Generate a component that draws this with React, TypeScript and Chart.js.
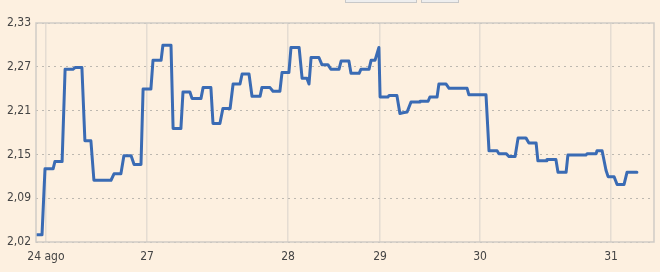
import React, { useEffect, useRef } from "react";
import { Chart, registerables } from "chart.js";

Chart.register(...registerables);

// Sample index (trading-time position) of each breakpoint and the price there
const sampleIndex = [
  0.3, 2, 3, 5.7, 6.3, 8.7, 9.7, 12.3, 13, 15.3, 16.3, 18.3, 19.3, 25, 26, 28.3,
  29.3, 31.7, 32.7, 35, 35.7, 38.3, 39, 41.7, 42.3, 45, 45.7, 48.3, 49, 51.3, 52,
  55, 55.7, 58.3, 59, 61.3, 62.3, 64.7, 65.7, 68, 68.7, 71, 72, 74.7, 75.3, 78,
  79, 81.3, 82, 84.3, 85, 87.7, 88.7, 90.3, 91, 91.7, 94.3, 95.3, 97.3, 98.3,
  101, 101.7, 104.3, 105, 107.7, 108.3, 111, 111.7, 113, 114.3, 114.7, 117.3,
  117.7, 120.3, 121.3, 122.3, 123.7, 125, 127.7, 128, 130.7, 131.3, 133.7,
  134.3, 136.7, 137.7, 143.7, 144.3, 150, 151, 153.7, 154.3, 156.7, 157.7,
  159.7, 160.7, 163.3, 164.3, 166.7, 167.3, 170, 170.3, 173.3, 174, 176.7,
  177.3, 183.3, 183.7, 186.7, 187, 188.7, 190, 190.7, 192.7, 193.7, 196, 197,
  200.3,
];

const price = [
  2.035, 2.035, 2.127, 2.127, 2.137, 2.137, 2.2655, 2.2655, 2.268, 2.268, 2.166,
  2.166, 2.111, 2.111, 2.12, 2.12, 2.145, 2.145, 2.133, 2.133, 2.238, 2.238,
  2.278, 2.278, 2.299, 2.299, 2.183, 2.183, 2.234, 2.234, 2.225, 2.225, 2.24,
  2.24, 2.19, 2.19, 2.211, 2.211, 2.245, 2.245, 2.259, 2.259, 2.228, 2.228,
  2.24, 2.24, 2.235, 2.235, 2.261, 2.261, 2.296, 2.296, 2.253, 2.253, 2.245,
  2.282, 2.282, 2.272, 2.272, 2.2655, 2.2655, 2.277, 2.277, 2.26, 2.26, 2.2655,
  2.2655, 2.278, 2.278, 2.296, 2.227, 2.227, 2.229, 2.229, 2.204, 2.205, 2.206,
  2.22, 2.22, 2.221, 2.221, 2.227, 2.227, 2.245, 2.245, 2.239, 2.239, 2.23,
  2.23, 2.152, 2.152, 2.148, 2.148, 2.144, 2.144, 2.17, 2.17, 2.163, 2.163,
  2.138, 2.138, 2.14, 2.14, 2.122, 2.122, 2.146, 2.146, 2.148, 2.148, 2.152,
  2.152, 2.125, 2.116, 2.116, 2.105, 2.105, 2.122, 2.122,
];

// Day boundaries on the trading-time axis
const dayTickPos = [3.3, 37, 84, 114.7, 148, 191.7];
const dayTickLabels = ["24 ago", "27", "28", "29", "30", "31"];

const yTickLabels = ["2,02", "2,09", "2,15", "2,21", "2,27", "2,33"];
const yMin = 2.025;
const yMax = 2.33;
const xMin = 0;
const xMax = 206;

const FONT = "'Liberation Sans Narrow', 'DejaVu Sans Condensed', 'Roboto Condensed', Arial, sans-serif";

const borderPlugin = {
  id: "plotBorder",
  afterDraw(chart: any) {
    const { ctx, chartArea } = chart;
    ctx.save();
    ctx.strokeStyle = "#cfcbc6";
    ctx.lineWidth = 1.5;
    ctx.strokeRect(chartArea.left, chartArea.top, chartArea.right - chartArea.left, chartArea.bottom - chartArea.top);
    ctx.restore();
  },
};

export default function App() {
  const ref = useRef<HTMLCanvasElement | null>(null);

  useEffect(() => {
    document.body.style.margin = "0";
    document.body.style.background = "#fdf0e0";
    if (!ref.current) return;
    const data = sampleIndex.map((x, i) => ({ x, y: price[i] }));
    const chart = new Chart(ref.current, {
      type: "line",
      data: {
        datasets: [
          {
            data,
            borderColor: "#3a6bb4",
            borderWidth: 3,
            pointRadius: 0,
            tension: 0,
            fill: false,
            borderJoinStyle: "round",
            borderCapStyle: "round",
          },
        ],
      },
      options: {
        animation: false,
        responsive: false,
        maintainAspectRatio: false,
        layout: { padding: { top: 23, right: 6, left: 0, bottom: 0 } },
        plugins: { legend: { display: false }, tooltip: { enabled: false } },
        scales: {
          x: {
            type: "linear",
            min: xMin,
            max: xMax,
            afterFit: (s: any) => {
              s.height = 30;
            },
            afterBuildTicks: (s: any) => {
              s.ticks = dayTickPos.map((v) => ({ value: v }));
            },
            ticks: {
              autoSkip: false,
              maxRotation: 0,
              padding: 8,
              color: "#444",
              font: { family: FONT, size: 12 },
              callback: (_v: any, i: number) => dayTickLabels[i],
            },
            grid: { color: "rgba(205,200,195,0.5)", lineWidth: 1.5, drawTicks: false },
            border: { display: false },
          },
          y: {
            type: "linear",
            min: yMin,
            max: yMax,
            afterFit: (s: any) => {
              s.width = 36;
            },
            afterBuildTicks: (s: any) => {
              const n = yTickLabels.length;
              s.ticks = yTickLabels.map((_, i) => ({ value: yMin + ((yMax - yMin) * i) / (n - 1) }));
            },
            ticks: {
              padding: 5,
              color: "#444",
              font: { family: FONT, size: 12 },
              callback: (_v: any, i: number) => yTickLabels[i],
            },
            grid: { color: "#bdb8b0", lineWidth: 1, drawTicks: false },
            border: { display: false, dash: [2, 4] },
          },
        },
      },
      plugins: [borderPlugin],
    } as any);
    return () => chart.destroy();
  }, []);

  return (
    <div style={{ position: "relative", width: 660, height: 272, background: "#fdf0e0", overflow: "hidden" }}>
      <div style={{ position: "absolute", left: 345, top: 0, width: 70, height: 2, background: "#eeeeee", border: "1px solid #c8c8c8", borderTop: "none" }} />
      <div style={{ position: "absolute", left: 421, top: 0, width: 36, height: 2, background: "#eeeeee", border: "1px solid #c8c8c8", borderTop: "none" }} />
      <canvas ref={ref} width={660} height={272} style={{ display: "block" }} />
    </div>
  );
}
